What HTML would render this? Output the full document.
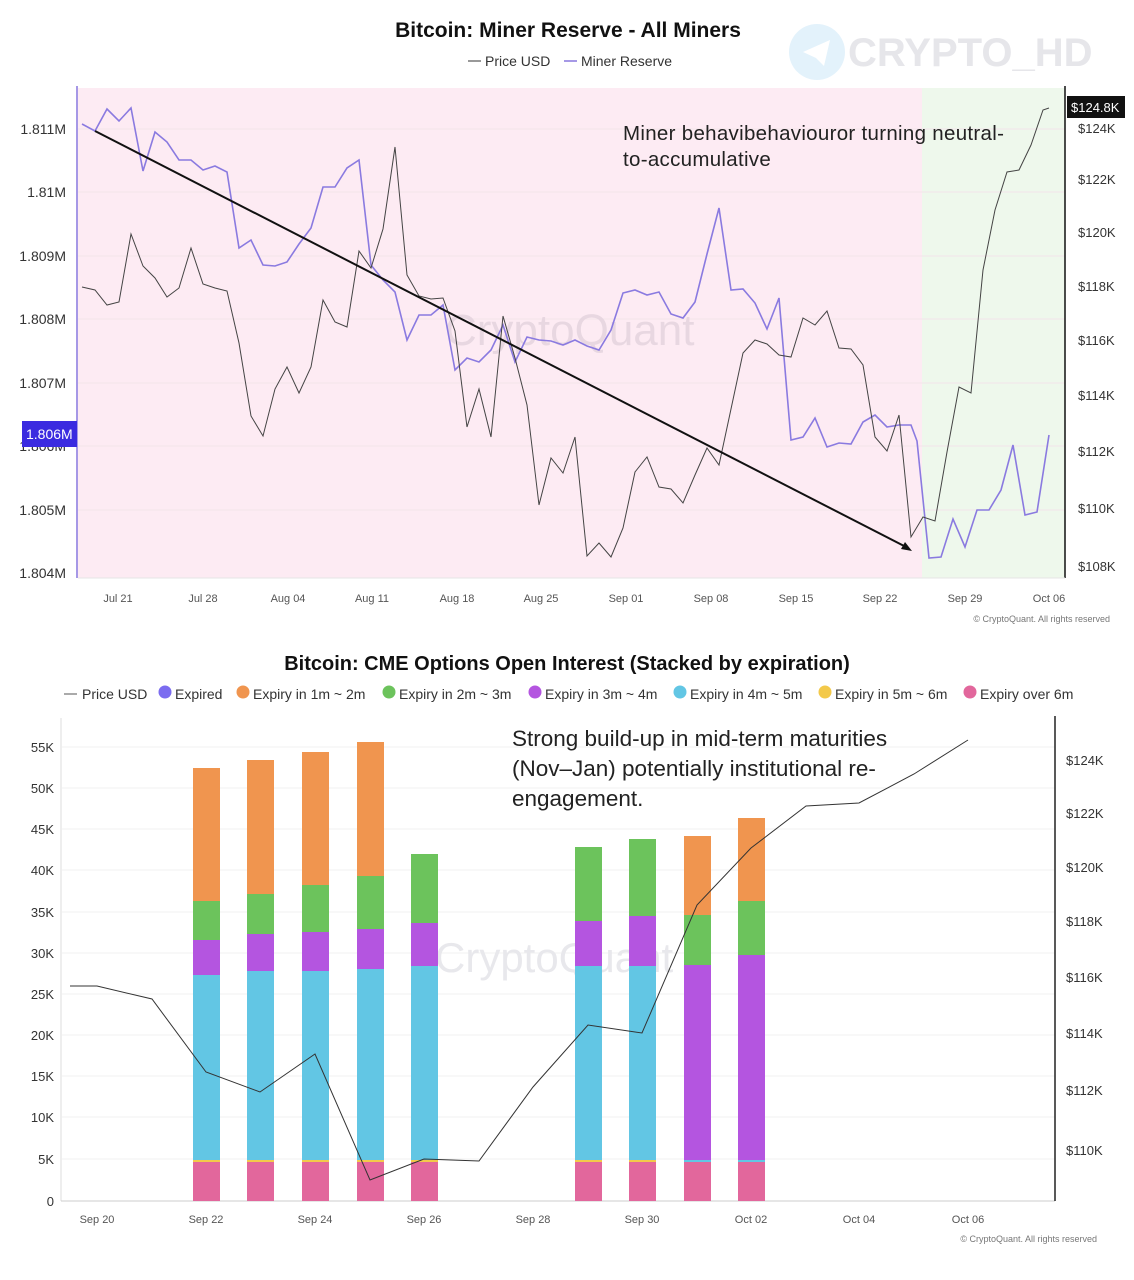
<!DOCTYPE html>
<html><head><meta charset="utf-8"><style>
html,body{margin:0;padding:0;background:#fff;width:1134px;height:1280px;overflow:hidden}
svg{display:block;font-family:"Liberation Sans",sans-serif}
</style></head><body>
<svg width="1134" height="1280" viewBox="0 0 1134 1280" xmlns="http://www.w3.org/2000/svg">
<!-- TOP CHART -->
<text x="568" y="37" text-anchor="middle" font-size="21" font-weight="bold" fill="#111">Bitcoin: Miner Reserve - All Miners</text>
<line x1="468" y1="61" x2="481" y2="61" stroke="#555" stroke-width="1.2"/>
<text x="485" y="66" font-size="14" fill="#333">Price USD</text>
<line x1="564" y1="61" x2="577" y2="61" stroke="#8877dd" stroke-width="1.5"/>
<text x="581" y="66" font-size="14" fill="#333">Miner Reserve</text>
<!-- watermark -->
<circle cx="817" cy="52" r="28" fill="#e3f2fb"/>
<path d="M803 52 L830 40 L824 66 L816 58 Z" fill="#fff"/>
<text x="848" y="66" font-size="40" font-weight="bold" fill="#e6e6ea">CRYPTO_HD</text>
<rect x="78" y="88" width="844" height="490" fill="#fdebf3"/>
<rect x="922" y="88" width="143" height="490" fill="#eef8ec"/>
<g stroke="#f2e4ea" stroke-width="1">
<line x1="78" y1="129" x2="1065" y2="129"/><line x1="78" y1="192" x2="1065" y2="192"/><line x1="78" y1="256" x2="1065" y2="256"/><line x1="78" y1="319" x2="1065" y2="319"/><line x1="78" y1="383" x2="1065" y2="383"/><line x1="78" y1="446" x2="1065" y2="446"/><line x1="78" y1="510" x2="1065" y2="510"/>
</g>
<text x="445" y="345" font-size="44" fill="#e4d3dd" opacity="0.8">CryptoQuant</text>
<line x1="77" y1="86" x2="77" y2="578" stroke="#8877dd" stroke-width="1.5"/>
<line x1="1065" y1="86" x2="1065" y2="578" stroke="#111" stroke-width="1.5"/>
<line x1="78" y1="578" x2="1065" y2="578" stroke="#e5e5e5"/>
<g font-size="14" fill="#333" text-anchor="end">
<text x="66" y="134">1.811M</text><text x="66" y="197">1.81M</text><text x="66" y="261">1.809M</text><text x="66" y="324">1.808M</text><text x="66" y="388">1.807M</text><text x="66" y="451">1.806M</text><text x="66" y="515">1.805M</text><text x="66" y="578">1.804M</text>
</g>
<rect x="22" y="421" width="55" height="26" fill="#3b2be0"/>
<text x="26" y="439" font-size="14" fill="#fff">1.806M</text>
<g font-size="13" fill="#333">
<text x="1078" y="133">$124K</text><text x="1078" y="184">$122K</text><text x="1078" y="237">$120K</text><text x="1078" y="291">$118K</text><text x="1078" y="345">$116K</text><text x="1078" y="400">$114K</text><text x="1078" y="456">$112K</text><text x="1078" y="513">$110K</text><text x="1078" y="571">$108K</text>
</g>
<rect x="1067" y="96" width="58" height="22" fill="#111"/>
<text x="1071" y="112" font-size="13" fill="#fff">$124.8K</text>
<g font-size="11" fill="#555" text-anchor="middle">
<text x="118" y="602">Jul 21</text><text x="203" y="602">Jul 28</text><text x="288" y="602">Aug 04</text><text x="372" y="602">Aug 11</text><text x="457" y="602">Aug 18</text><text x="541" y="602">Aug 25</text><text x="626" y="602">Sep 01</text><text x="711" y="602">Sep 08</text><text x="796" y="602">Sep 15</text><text x="880" y="602">Sep 22</text><text x="965" y="602">Sep 29</text><text x="1049" y="602">Oct 06</text>
</g>
<text x="1110" y="622" font-size="9" fill="#777" text-anchor="end">© CryptoQuant. All rights reserved</text>
<polyline fill="none" stroke="#8a7ae0" stroke-width="1.6" points="82,124 95,131 107,109 119,121 131,108 143,171 155,132 167,142 179,160 191,160 203,170 215,166 227,172 239,248 251,240 263,265 275,266 287,262 299,244 311,228 323,187 335,187 347,168 359,160 371,265 383,280 395,292 407,340 419,315 431,315 443,305 455,370 467,358 479,362 491,350 503,325 515,362 527,337 539,340 551,341 563,345 575,340 587,346 599,350 611,330 623,293 635,290 647,295 659,292 671,314 683,318 695,302 707,254 719,208 731,290 743,289 755,303 767,329 779,298 791,440 803,437 815,418 827,447 839,443 851,444 863,422 875,415 887,427 899,425 911,425 917,441 929,558 941,557 953,519 965,547 977,510 989,510 1001,490 1013,445 1025,515 1037,512 1049,435"/>
<polyline fill="none" stroke="#444" stroke-width="1" points="82,287 95,290 107,305 119,302 131,234 143,266 155,278 167,297 179,288 191,248 203,284 215,288 227,291 239,343 251,416 263,436 275,389 287,367 299,393 311,367 323,300 335,322 347,327 359,251 371,268 383,229 395,147 407,275 419,296 431,299 443,298 455,331 467,427 479,389 491,437 503,316 515,358 527,405 539,505 551,458 563,473 575,437 587,556 599,543 611,557 623,528 635,472 647,457 659,487 671,489 683,503 695,475 707,448 719,465 731,409 743,353 755,340 767,344 779,355 791,357 803,318 815,325 827,311 839,348 851,349 863,365 875,437 887,451 899,415 911,537 923,517 935,521 947,452 959,387 971,393 983,270 995,210 1007,172 1019,170 1031,145 1043,110 1049,108"/>
<line x1="95" y1="131" x2="908" y2="548" stroke="#111" stroke-width="2"/>
<polygon points="912,551 901,549 905,542" fill="#111"/>
<text x="623" y="140" font-size="20.5" letter-spacing="0.3" fill="#222">Miner behavibehaviouror turning neutral-</text>
<text x="623" y="166" font-size="20.5" letter-spacing="0.3" fill="#222">to-accumulative</text>

<!-- BOTTOM CHART -->
<text x="567" y="670" text-anchor="middle" font-size="20" font-weight="bold" fill="#111">Bitcoin: CME Options Open Interest (Stacked by expiration)</text>
<g font-size="14" fill="#333">
<line x1="64" y1="694" x2="77" y2="694" stroke="#555"/><text x="82" y="699">Price USD</text>
<circle cx="165" cy="692" r="6.5" fill="#7b6cf0"/><text x="175" y="699">Expired</text>
<circle cx="243" cy="692" r="6.5" fill="#f0954f"/><text x="253" y="699">Expiry in 1m ~ 2m</text>
<circle cx="389" cy="692" r="6.5" fill="#6cc35c"/><text x="399" y="699">Expiry in 2m ~ 3m</text>
<circle cx="535" cy="692" r="6.5" fill="#b455e0"/><text x="545" y="699">Expiry in 3m ~ 4m</text>
<circle cx="680" cy="692" r="6.5" fill="#62c6e4"/><text x="690" y="699">Expiry in 4m ~ 5m</text>
<circle cx="825" cy="692" r="6.5" fill="#f3c94a"/><text x="835" y="699">Expiry in 5m ~ 6m</text>
<circle cx="970" cy="692" r="6.5" fill="#e2679c"/><text x="980" y="699">Expiry over 6m</text>
</g>
<g stroke="#f2f2f2"><line x1="62" y1="747" x2="1055" y2="747"/><line x1="62" y1="788" x2="1055" y2="788"/><line x1="62" y1="829" x2="1055" y2="829"/><line x1="62" y1="870" x2="1055" y2="870"/><line x1="62" y1="912" x2="1055" y2="912"/><line x1="62" y1="953" x2="1055" y2="953"/><line x1="62" y1="994" x2="1055" y2="994"/><line x1="62" y1="1035" x2="1055" y2="1035"/><line x1="62" y1="1076" x2="1055" y2="1076"/><line x1="62" y1="1117" x2="1055" y2="1117"/><line x1="62" y1="1159" x2="1055" y2="1159"/></g>
<line x1="61" y1="718" x2="61" y2="1201" stroke="#ddd"/>
<line x1="61" y1="1201" x2="1055" y2="1201" stroke="#ccc"/>
<line x1="1055" y1="716" x2="1055" y2="1201" stroke="#222" stroke-width="1.5"/>
<g font-size="13" fill="#333" text-anchor="end">
<text x="54" y="752">55K</text><text x="54" y="793">50K</text><text x="54" y="834">45K</text><text x="54" y="875">40K</text><text x="54" y="917">35K</text><text x="54" y="958">30K</text><text x="54" y="999">25K</text><text x="54" y="1040">20K</text><text x="54" y="1081">15K</text><text x="54" y="1122">10K</text><text x="54" y="1164">5K</text><text x="54" y="1206">0</text>
</g>
<g font-size="13" fill="#333">
<text x="1066" y="765">$124K</text><text x="1066" y="818">$122K</text><text x="1066" y="872">$120K</text><text x="1066" y="926">$118K</text><text x="1066" y="982">$116K</text><text x="1066" y="1038">$114K</text><text x="1066" y="1095">$112K</text><text x="1066" y="1155">$110K</text>
</g>
<g font-size="11" fill="#555" text-anchor="middle">
<text x="97" y="1223">Sep 20</text><text x="206" y="1223">Sep 22</text><text x="315" y="1223">Sep 24</text><text x="424" y="1223">Sep 26</text><text x="533" y="1223">Sep 28</text><text x="642" y="1223">Sep 30</text><text x="751" y="1223">Oct 02</text><text x="859" y="1223">Oct 04</text><text x="968" y="1223">Oct 06</text>
</g>
<text x="1097" y="1242" font-size="9" fill="#777" text-anchor="end">© CryptoQuant. All rights reserved</text>
<text x="435" y="972" font-size="42" fill="#e8e8ec">CryptoQuant</text>
<g>
<rect x="193" y="1162" width="27" height="39" fill="#e2679c"/><rect x="193" y="1160" width="27" height="2" fill="#f3c94a"/><rect x="193" y="975" width="27" height="185" fill="#62c6e4"/><rect x="193" y="940" width="27" height="35" fill="#b455e0"/><rect x="193" y="901" width="27" height="39" fill="#6cc35c"/><rect x="193" y="768" width="27" height="133" fill="#f0954f"/>
<rect x="247" y="1162" width="27" height="39" fill="#e2679c"/><rect x="247" y="1160" width="27" height="2" fill="#f3c94a"/><rect x="247" y="971" width="27" height="189" fill="#62c6e4"/><rect x="247" y="934" width="27" height="37" fill="#b455e0"/><rect x="247" y="894" width="27" height="40" fill="#6cc35c"/><rect x="247" y="760" width="27" height="134" fill="#f0954f"/>
<rect x="302" y="1162" width="27" height="39" fill="#e2679c"/><rect x="302" y="1160" width="27" height="2" fill="#f3c94a"/><rect x="302" y="971" width="27" height="189" fill="#62c6e4"/><rect x="302" y="932" width="27" height="39" fill="#b455e0"/><rect x="302" y="885" width="27" height="47" fill="#6cc35c"/><rect x="302" y="752" width="27" height="133" fill="#f0954f"/>
<rect x="357" y="1162" width="27" height="39" fill="#e2679c"/><rect x="357" y="1160" width="27" height="2" fill="#f3c94a"/><rect x="357" y="969" width="27" height="191" fill="#62c6e4"/><rect x="357" y="929" width="27" height="40" fill="#b455e0"/><rect x="357" y="876" width="27" height="53" fill="#6cc35c"/><rect x="357" y="742" width="27" height="134" fill="#f0954f"/>
<rect x="411" y="1162" width="27" height="39" fill="#e2679c"/><rect x="411" y="1160" width="27" height="2" fill="#f3c94a"/><rect x="411" y="966" width="27" height="194" fill="#62c6e4"/><rect x="411" y="923" width="27" height="43" fill="#b455e0"/><rect x="411" y="854" width="27" height="69" fill="#6cc35c"/>
<rect x="575" y="1162" width="27" height="39" fill="#e2679c"/><rect x="575" y="1160" width="27" height="2" fill="#f3c94a"/><rect x="575" y="966" width="27" height="194" fill="#62c6e4"/><rect x="575" y="921" width="27" height="45" fill="#b455e0"/><rect x="575" y="847" width="27" height="74" fill="#6cc35c"/>
<rect x="629" y="1162" width="27" height="39" fill="#e2679c"/><rect x="629" y="1160" width="27" height="2" fill="#f3c94a"/><rect x="629" y="966" width="27" height="194" fill="#62c6e4"/><rect x="629" y="916" width="27" height="50" fill="#b455e0"/><rect x="629" y="839" width="27" height="77" fill="#6cc35c"/>
<rect x="684" y="1162" width="27" height="39" fill="#e2679c"/><rect x="684" y="1160" width="27" height="2" fill="#62c6e4"/><rect x="684" y="965" width="27" height="195" fill="#b455e0"/><rect x="684" y="915" width="27" height="50" fill="#6cc35c"/><rect x="684" y="836" width="27" height="79" fill="#f0954f"/>
<rect x="738" y="1162" width="27" height="39" fill="#e2679c"/><rect x="738" y="1160" width="27" height="2" fill="#62c6e4"/><rect x="738" y="955" width="27" height="205" fill="#b455e0"/><rect x="738" y="901" width="27" height="54" fill="#6cc35c"/><rect x="738" y="818" width="27" height="83" fill="#f0954f"/>
</g>
<polyline fill="none" stroke="#333" stroke-width="1" points="70,986 97,986 152,999 206,1072 260,1092 315,1054 370,1180 424,1159 479,1161 533,1087 588,1025 642,1033 697,905 751,848 806,806 859,803 914,774 968,740"/>
<text x="512" y="746" font-size="22.5" fill="#222">Strong build-up in mid-term maturities</text>
<text x="512" y="776" font-size="22.5" fill="#222">(Nov–Jan) potentially institutional re-</text>
<text x="512" y="806" font-size="22.5" fill="#222">engagement.</text>
</svg>
</body></html>
